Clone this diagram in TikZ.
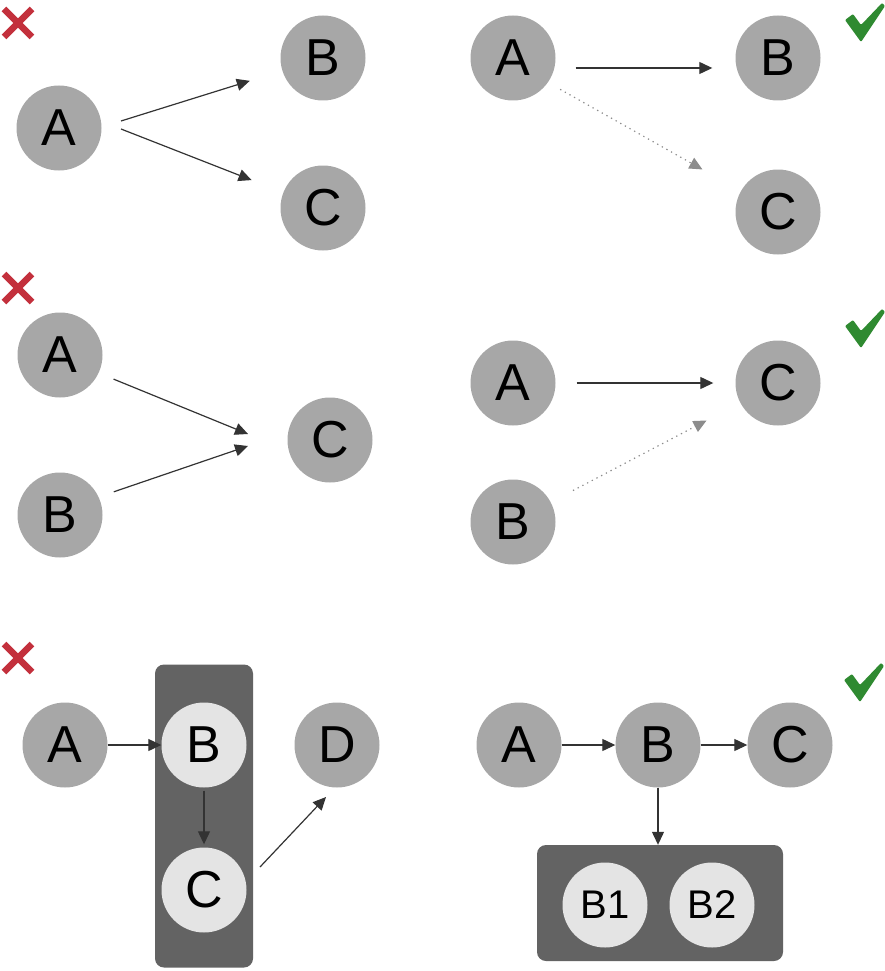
\documentclass[tikz,border=0pt]{standalone}
\usepackage{fontspec}
\setmainfont{Liberation Sans}
\usetikzlibrary{arrows.meta}
\definecolor{dgmid}{HTML}{A7A7A7}
\definecolor{dglite}{HTML}{E4E4E4}
\definecolor{dgdark}{HTML}{636363}
\definecolor{dgred}{HTML}{C3303C}
\definecolor{dggreen}{HTML}{2F8A31}
\tikzset{
  dgnode/.style={circle, fill=dgmid, minimum size=85pt, inner sep=0pt,
    font=\fontsize{52}{56}\selectfont},
  dglight/.style={dgnode, fill=dglite},
  dgsub/.style={dglight, font=\fontsize{40}{44}\selectfont},
  dggroup/.style={rectangle, rounded corners=9pt, fill=dgdark, inner sep=0pt},
  dgarrow/.style={-{Triangle[length=13pt,width=12pt]}, line width=1.2pt, draw=black!80},
  dgdots/.style={dgarrow, draw=black!45, dash pattern=on 1.3pt off 4pt},
  dgbad/.pic={\draw[dgred, line width=6.5pt] (-14,-14) -- (14,14) (-14,14) -- (14,-14);},
  dggood/.pic={\fill[dggreen, rounded corners=1pt] (-18,-2) -- (-10,-8) -- (-2,3) -- (19,-19)
    -- (22,-16) -- (-2,20) -- cycle;}
}
\begin{document}
\begin{tikzpicture}[x=1pt, y=-1pt]
  \useasboundingbox (0,0) rectangle (885,971);
  % top row
  \pic at (18,23) {dgbad};
  \node[dgnode] (a1) at (59,128) {A};
  \node[dgnode] (b1) at (323,58) {B};
  \node[dgnode] (c1) at (323,208) {C};
  \coordinate (a1up) at (121,121);
  \coordinate (a1dn) at (121,129);
  \draw[dgarrow, shorten >=34pt] (a1up) -- (b1);
  \draw[dgarrow, shorten >=34pt] (a1dn) -- (c1);
  \pic at (863,22) {dggood};
  \node[dgnode] (a2) at (513,58) {A};
  \node[dgnode] (b2) at (778,58) {B};
  \node[dgnode] (c2) at (778,212) {C};
  \draw[dgarrow, shorten <=20pt, shorten >=23pt] ([yshift=-10pt]a2.east) -- ([yshift=-10pt]b2.west);
  \draw[dgdots, shorten <=14pt, shorten >=44pt] (a2.-35) -- (c2);
  % middle row
  \pic at (18,288) {dgbad};
  \node[dgnode] (a3) at (60,355) {A};
  \node[dgnode] (b3) at (60,515) {B};
  \node[dgnode] (c3) at (330,440) {C};
  \coordinate (c3up) at (248,434);
  \coordinate (c3dn) at (248,446);
  \draw[dgarrow, shorten <=16pt] (a3.-25) -- (c3up);
  \draw[dgarrow, shorten <=16pt] (b3.25) -- (c3dn);
  \pic at (863,328) {dggood};
  \node[dgnode] (a4) at (513,383) {A};
  \node[dgnode] (b4) at (513,522) {B};
  \node[dgnode] (c4) at (778,383) {C};
  \draw[dgarrow, shorten <=21pt, shorten >=22pt] (a4) -- (c4);
  \draw[dgdots, shorten <=25pt, shorten >=38pt] (b4) -- (c4);
  % bottom row
  \pic at (18,658) {dgbad};
  \node[dggroup, minimum width=98pt, minimum height=303pt] (grp5) at (204,816) {};
  \node[dgnode] (a5) at (65,745) {A};
  \node[dglight] (b5) at (204,745) {B};
  \node[dglight] (c5) at (204,890) {C};
  \node[dgnode] (d5) at (337,745) {D};
  \coordinate (c5out) at (260,867);
  \coordinate (d5in) at (326,797);
  \draw[dgarrow] (a5) -- (b5);
  \draw[dgarrow, shorten <=3pt, shorten >=3pt] (b5) -- (c5);
  \draw[dgarrow] (c5out) -- (d5in);
  \pic at (862,682) {dggood};
  \node[dgnode] (a6) at (519,745) {A};
  \node[dgnode] (b6) at (658,745) {B};
  \node[dgnode] (c6) at (790,745) {C};
  \node[dggroup, minimum width=246pt, minimum height=116pt] (grp6) at (660,903) {};
  \node[dgsub] (b61) at (605,905) {B1};
  \node[dgsub] (b62) at (712,905) {B2};
  \draw[dgarrow] (a6) -- (b6);
  \draw[dgarrow] (b6) -- (c6);
  \draw[dgarrow] (b6.south) -- (b6.south |- grp6.north);
\end{tikzpicture}
\end{document}
